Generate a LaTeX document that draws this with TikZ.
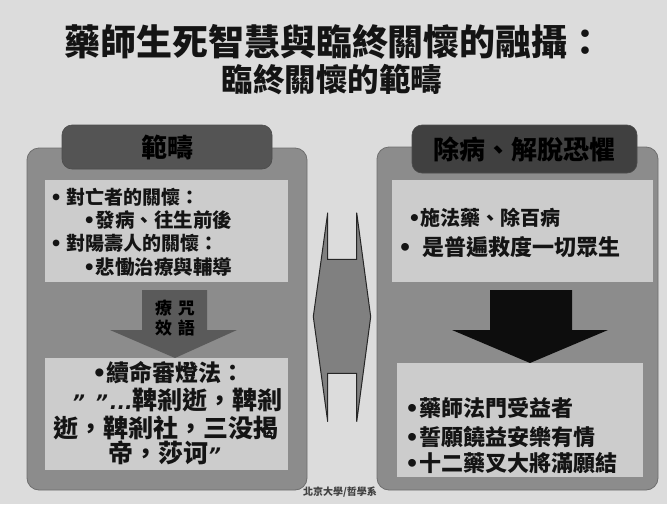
\documentclass[tikz,border=0pt]{standalone}
\usepackage{fontspec}
\newfontfamily\cjk{Noto Sans CJK TC}
\newfontfamily\latinb{DejaVu Sans}
\definecolor{bgcol}{HTML}{DCDCDC}
\definecolor{panelgray}{HTML}{8C8C8C}
\definecolor{panelrim}{HTML}{6E6E6E}
\definecolor{lheadcol}{HTML}{545454}
\definecolor{rheadcol}{HTML}{404040}
\definecolor{larrowcol}{HTML}{5A5A5A}
\definecolor{inktext}{HTML}{141414}
\newcommand{\bul}{{\latinb\bfseries •}}
\newcommand{\fs}[1]{\fontsize{#1}{#1}\selectfont}
\begin{document}
\begin{tikzpicture}[x=1pt,y=-1pt,
  panelbox/.style={rectangle, rounded corners=12pt, fill=panelgray, draw=panelrim, line width=0.8pt, inner sep=0pt, outer sep=0pt},
  headbox/.style={rectangle, rounded corners=10pt, draw=black!70, line width=0.6pt, inner sep=0pt, outer sep=0pt, font=\cjk\bfseries\fs{26}, text=black},
  contentbox/.style={rectangle, fill=black!20, inner sep=0pt, outer sep=0pt},
  titletext/.style={font=\cjk\bfseries, text=inktext, inner sep=0pt},
  itemtext/.style={font=\cjk\bfseries, text=inktext, anchor=west, inner sep=0pt},
  arrowtext/.style={font=\cjk\bfseries\fs{17}, text=black, inner sep=0pt, align=center},
  midline/.style={draw=black!85, line width=1pt, line join=miter}
]
\useasboundingbox (0,0) rectangle (667,504);
\fill[bgcol] (0,0) rectangle (667,504);

% title
\node[titletext, font=\cjk\bfseries\fs{36}] (title1) at (334,42) {藥師生死智慧與臨終關懷的融攝：};
\node[titletext, font=\cjk\bfseries\fs{31.5}] (title2) at (332,80) {臨終關懷的範疇};

% left panel
\node[panelbox, minimum width=280pt, minimum height=342pt] (lpanel) at (167,319) {};
\node[headbox, fill=lheadcol, minimum width=210pt, minimum height=44pt] (lhead) at (167,147) {範疇};
\node[contentbox, minimum width=243pt, minimum height=102pt] (lbox1) at (166.5,231) {};
\node[itemtext, font=\cjk\bfseries\fs{19}] (l1) at (50,197) {\bul\ 對亡者的關懷：};
\node[itemtext, font=\cjk\bfseries\fs{19.5}] (l2) at (83,220) {\bul 發病、往生前後};
\node[itemtext, font=\cjk\bfseries\fs{19}] (l3) at (50,243) {\bul\ 對陽壽人的關懷：};
\node[itemtext, font=\cjk\bfseries\fs{19.5}] (l4) at (83,267) {\bul 悲慟治療與輔導};

% left arrow
\fill[larrowcol]
  (142,290) -- (207,290) -- (207,330) -- (237,330) -- (175,358) -- (110,330) -- (142,330) -- cycle;
\node[arrowtext] (larrtxt) at (175,318) {療\hspace{6pt}咒\\[3pt]效\hspace{6pt}語};

\node[contentbox, minimum width=243pt, minimum height=112pt] (lbox2) at (166.5,414) {};
\node[itemtext, font=\cjk\bfseries\fs{23}] (m1) at (92,373) {\bul 續命審燈法：};
\node[itemtext, font=\cjk\bfseries\fs{25}] (m2) at (72,400) {{\latinb\bfseries\itshape\fs{20}”\hspace{10pt}”\hspace{2pt}...}鞞剎逝，鞞剎};
\node[itemtext, font=\cjk\bfseries\fs{25}] (m3) at (53,428) {逝，鞞剎社，三没揭};
\node[itemtext, font=\cjk\bfseries\fs{25}] (m4) at (108,453) {帝，莎诃{\latinb\bfseries\itshape\fs{20}”}};

% middle double arrow shape
\fill[black!50] (327.7,212.7) -- (313.3,316.7) -- (327.7,421.7) -- (327.7,373.3) -- (356.7,373.3)
  -- (356.7,421.7) -- (370.7,316.7) -- (356.7,212.7) -- (356.7,259.3) -- (327.7,259.3) -- cycle;
\draw[midline] (327.7,212.7) -- (313.3,316.7) -- (327.7,421.7) -- (327.7,373.3) -- (356.7,373.3)
  -- (356.7,421.7) -- (370.7,316.7) -- (356.7,212.7) -- (356.7,259.3) -- (327.7,259.3) -- cycle;

% right panel
\node[panelbox, minimum width=281pt, minimum height=343pt] (rpanel) at (517.5,318.5) {};
\node[headbox, fill=rheadcol, minimum width=225pt, minimum height=48pt] (rhead) at (524.5,149) {除病、解脫恐懼};
\node[contentbox, minimum width=261pt, minimum height=102pt] (rbox1) at (522.5,231) {};
\node[itemtext, font=\cjk\bfseries\fs{20}] (r1) at (408,218) {\bul 施法藥、除百病};
\node[itemtext, font=\cjk\bfseries\fs{22}] (r2) at (398,247) {\bul\ \ 是普遍救度一切眾生};

% right arrow
\fill[black!95]
  (490,290) -- (572,290) -- (572,330) -- (608,330) -- (530,363) -- (452,330) -- (490,330) -- cycle;

\node[contentbox, minimum width=246pt, minimum height=114pt] (rbox2) at (520,420) {};
\node[itemtext, font=\cjk\bfseries\fs{22}] (r3) at (405,408) {\bul 藥師法門受益者};
\node[itemtext, font=\cjk\bfseries\fs{22}] (r4) at (405,437) {\bul 誓願饒益安樂有情};
\node[itemtext, font=\cjk\bfseries\fs{22}] (r5) at (405,463) {\bul 十二藥叉大將滿願結};

% footer
\node[font=\cjk\bfseries\fs{10}, text=black!75, inner sep=0pt] (foot) at (340,492) {北京大學/哲學系};
\end{tikzpicture}
\end{document}
